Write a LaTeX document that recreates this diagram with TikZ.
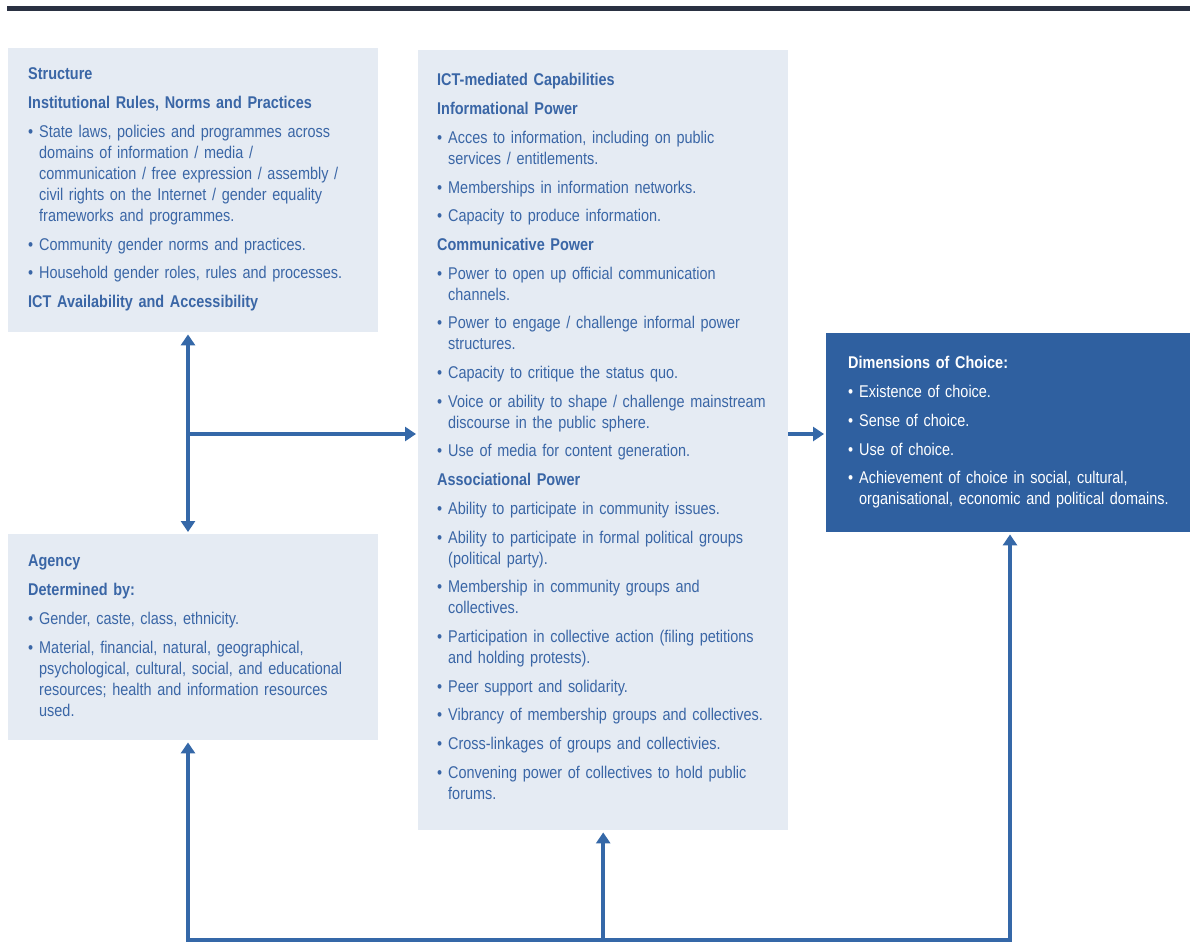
\documentclass[tikz,border=0pt]{standalone}
\usepackage{fontspec}
\setmainfont[FakeStretch=0.85]{Liberation Sans}
\usetikzlibrary{arrows.meta}

\definecolor{panel}{HTML}{E5EBF3}
\definecolor{choiceblue}{HTML}{2F60A0}
\definecolor{inkblue}{HTML}{3A66A6}
\definecolor{linkblue}{HTML}{3568A8}
\definecolor{rulegrey}{HTML}{2A3142}

\newcommand{\hd}[1]{\par\textbf{#1}}
\newcommand{\itm}[1]{\par\hangindent=11pt\hangafter=1\makebox[11pt][l]{\textbullet}#1}

\begin{document}
\begin{tikzpicture}[x=1pt,y=-1pt,
  panelbox/.style={fill=panel, inner sep=0pt, anchor=north west},
  choicebox/.style={fill=choiceblue, inner sep=0pt, anchor=north west},
  boxtext/.style={inner sep=0pt, anchor=north west, text width=345pt, align=left,
    text=inkblue, font=\fontsize{17}{21}\selectfont,
    execute at begin node={\setlength{\parskip}{7.7pt}\setlength{\parindent}{0pt}}},
  link/.style={draw=linkblue, line width=4pt,
    -{Triangle[width=14pt,length=11pt]}, shorten >=2pt}]

\useasboundingbox (0,0) rectangle (1190,943);

%% top rule
\draw[rulegrey, line width=5pt] (7,8) -- (1190,8);

%% boxes
\node[panelbox, minimum width=370pt, minimum height=284pt] (structure) at (8,48) {};
\node[panelbox, minimum width=370pt, minimum height=206pt] (agency) at (8,534) {};
\node[panelbox, minimum width=370pt, minimum height=780pt] (ict) at (418,50) {};
\node[choicebox, minimum width=364pt, minimum height=199pt] (choice) at (826,333) {};

%% texts
\node[boxtext] (structure-txt) at ([shift={(20,3)}]structure.north west) {%
\hd{Structure}
\hd{Institutional Rules, Norms and Practices}
\itm{State laws, policies and programmes across\newline domains of information / media /\newline communication / free expression / assembly /\newline civil rights on the Internet / gender equality\newline frameworks and programmes.}
\itm{Community gender norms and practices.}
\itm{Household gender roles, rules and processes.}
\hd{ICT Availability and Accessibility}\par};

\node[boxtext] (agency-txt) at ([shift={(20,4)}]agency.north west) {%
\hd{Agency}
\hd{Determined by:}
\itm{Gender, caste, class, ethnicity.}
\itm{Material, financial, natural, geographical,\newline psychological, cultural, social, and educational\newline resources; health and information resources\newline used.}\par};

\node[boxtext] (ict-txt) at ([shift={(19,7)}]ict.north west) {%
\hd{ICT-mediated Capabilities}
\hd{Informational Power}
\itm{Acces to information, including on public\newline services / entitlements.}
\itm{Memberships in information networks.}
\itm{Capacity to produce information.}
\hd{Communicative Power}
\itm{Power to open up official communication\newline channels.}
\itm{Power to engage / challenge informal power\newline structures.}
\itm{Capacity to critique the status quo.}
\itm{Voice or ability to shape / challenge mainstream\newline discourse in the public sphere.}
\itm{Use of media for content generation.}
\hd{Associational Power}
\itm{Ability to participate in community issues.}
\itm{Ability to participate in formal political groups\newline (political party).}
\itm{Membership in community groups and\newline collectives.}
\itm{Participation in collective action (filing petitions\newline and holding protests).}
\itm{Peer support and solidarity.}
\itm{Vibrancy of membership groups and collectives.}
\itm{Cross-linkages of groups and collectivies.}
\itm{Convening power of collectives to hold public\newline forums.}\par};

\node[boxtext, text=white, text width=340pt] (choice-txt) at ([shift={(22,7)}]choice.north west) {%
\hd{Dimensions of Choice:}
\itm{Existence of choice.}
\itm{Sense of choice.}
\itm{Use of choice.}
\itm{Achievement of choice in social, cultural,\newline organisational, economic and political domains.}\par};

%%% arrows
\coordinate (hub) at (188,434);
\coordinate (base-l) at (188,940);
\coordinate (base-r) at (1010,940);

\draw[link] (hub) -- (structure.south -| hub);
\draw[link] (hub) -- (agency.north -| hub);
\draw[link] (hub) -- (ict.west |- hub);
\draw[link] (ict.east |- hub) -- (choice.west |- hub);

\draw[link, {Triangle[width=14pt,length=11pt]}-{Triangle[width=14pt,length=11pt]}, shorten <=2pt]
  (agency.south -| base-l) -- (base-l) -- (base-r) -- (choice.south -| base-r);
\draw[link] (base-l -| ict.south) -- (ict.south);

\end{tikzpicture}
\end{document}
